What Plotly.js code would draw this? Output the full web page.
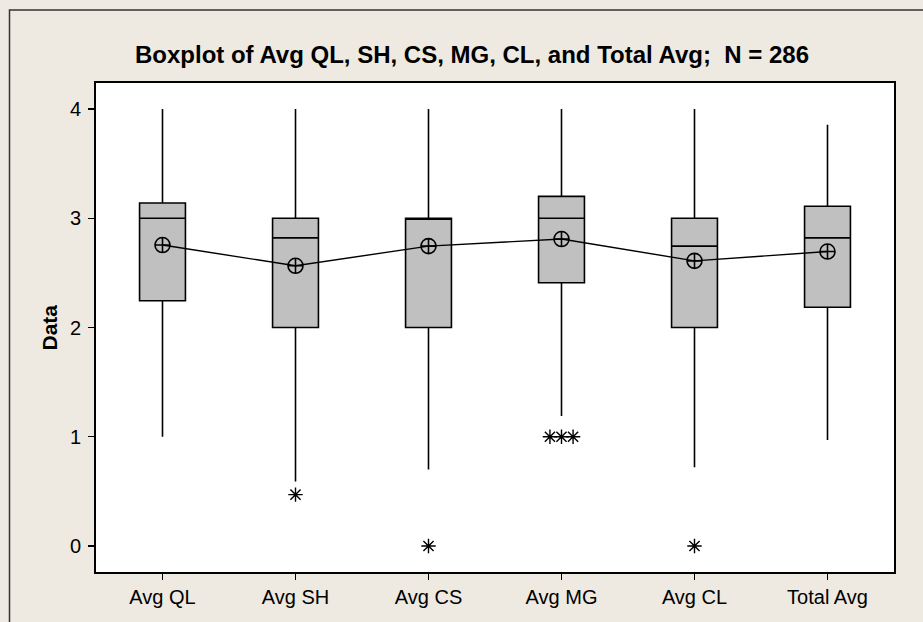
<!DOCTYPE html>
<html>
<head>
<meta charset="utf-8">
<script src="https://cdn.plot.ly/plotly-3.0.1.min.js"></script>
<style>html,body{margin:0;padding:0;background:#EEEAE1;}</style>
</head>
<body>
<div id="chart" style="width:923px;height:622px;"></div>
<script>
// ---- data ----
const categories = ["Avg QL", "Avg SH", "Avg CS", "Avg MG", "Avg CL", "Total Avg"];
const q1Values     = [2.245, 2.00, 2.00, 2.41, 2.00, 2.185];
const medianValues = [3.00, 2.82, 3.00, 3.00, 2.745, 2.82];
const q3Values     = [3.14, 3.00, 3.00, 3.20, 3.00, 3.11];
const lowerWhisker = [1.00, 0.59, 0.70, 1.19, 0.72, 0.97];
const upperWhisker = [4.00, 4.00, 4.00, 4.00, 4.00, 3.855];
const meanValues   = [2.755, 2.565, 2.745, 2.81, 2.61, 2.695];
// outliers: category index and value (tied values shown side by side)
const outlierCategory = [1, 2, 3, 3, 3, 4];
const outlierValue    = [0.47, 0.00, 1.00, 1.00, 1.00, 0.00];
const yTickValues = [0, 1, 2, 3, 4];

// ---- build traces ----
const idx = categories.map((c, i) => i);

const boxTrace = {
  type: "box",
  x: idx,
  q1: q1Values,
  median: medianValues,
  q3: q3Values,
  lowerfence: lowerWhisker,
  upperfence: upperWhisker,
  width: 0.345,
  whiskerwidth: 0,
  fillcolor: "#C0C0C0",
  line: {color: "#000000", width: 1.6},
  boxpoints: false,
  hoverinfo: "skip",
  showlegend: false
};

const meanTrace = {
  type: "scatter",
  mode: "lines+markers",
  x: idx,
  y: meanValues,
  line: {color: "#000000", width: 1.4},
  marker: {symbol: "circle-cross-open", size: 15, color: "#000000", line: {width: 1.6, color: "#000000"}},
  showlegend: false,
  hoverinfo: "skip"
};

// spread tied outliers horizontally
const outX = [];
const seen = {};
outlierCategory.forEach((c, i) => {
  const key = c + "_" + outlierValue[i];
  const n = outlierCategory.filter((cc, j) => cc === c && outlierValue[j] === outlierValue[i]).length;
  seen[key] = (seen[key] || 0) + 1;
  const k = seen[key] - 1;
  outX.push(c + (k - (n - 1) / 2) * 0.087);
});

const outlierTrace = {
  type: "scatter",
  mode: "markers",
  x: outX,
  y: outlierValue,
  marker: {symbol: "asterisk-open", size: 12, color: "#000000", line: {width: 1.4, color: "#000000"}},
  showlegend: false,
  hoverinfo: "skip"
};

const fontFam = "Liberation Sans, Arial, sans-serif";

const layout = {
  width: 923,
  height: 622,
  paper_bgcolor: "#EEEAE1",
  plot_bgcolor: "#FFFFFF",
  margin: {l: 96, r: 29, t: 83, b: 50, autoexpand: false},
  showlegend: false,
  title: {
    text: "<b>Boxplot of Avg QL, SH, CS, MG, CL, and Total Avg;  N = 286</b>",
    font: {family: fontFam, size: 24, color: "#000000"},
    x: 472 / 923, xref: "container", xanchor: "center",
    y: 1 - 55 / 622, yref: "container", yanchor: "middle"
  },
  xaxis: {
    range: [-0.5, 5.5],
    tickmode: "array",
    tickvals: idx,
    ticktext: categories,
    ticks: "outside",
    ticklen: 6,
    tickwidth: 1.4,
    tickcolor: "#000000",
    showgrid: false,
    zeroline: false,
    showline: true,
    linecolor: "#000000",
    linewidth: 2,
    mirror: true,
    tickfont: {family: fontFam, size: 20, color: "#000000"},
    fixedrange: true
  },
  yaxis: {
    range: [-0.238, 4.238],
    tickmode: "array",
    tickvals: yTickValues,
    ticktext: yTickValues.map(String),
    ticks: "outside",
    ticklen: 6,
    tickwidth: 1.4,
    tickcolor: "#000000",
    ticklabelstandoff: 3,
    showgrid: false,
    zeroline: false,
    showline: true,
    linecolor: "#000000",
    linewidth: 2,
    mirror: true,
    tickfont: {family: fontFam, size: 20, color: "#000000"},
    automargin: false,
    fixedrange: true
  },
  annotations: [{
    text: "<b>Data</b>",
    xref: "paper", yref: "paper",
    x: (49 - 96) / 798, y: 0.5,
    xanchor: "center", yanchor: "middle",
    textangle: -90,
    showarrow: false,
    font: {family: fontFam, size: 21, color: "#000000"}
  }],
  shapes: [{
    type: "rect",
    xref: "paper", yref: "paper",
    x0: (9.5 - 96) / 798, x1: 1.2,
    y0: -0.2, y1: 1 + (83 - 10) / 489,
    line: {color: "#333333", width: 1.5},
    fillcolor: "rgba(0,0,0,0)",
    layer: "below"
  }]
};

Plotly.newPlot("chart", [boxTrace, meanTrace, outlierTrace], layout, {displayModeBar: false, staticPlot: true});
</script>
</body>
</html>
